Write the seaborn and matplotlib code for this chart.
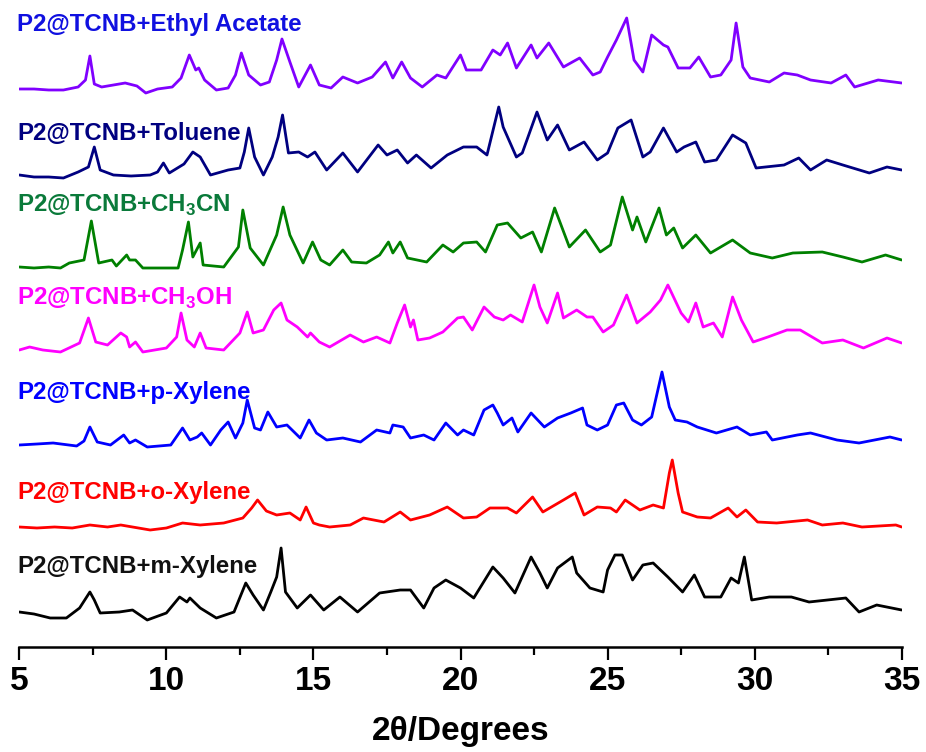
import matplotlib

matplotlib.use("Agg")
import matplotlib.pyplot as plt
import numpy as np
import pandas as pd
import seaborn as sns
from matplotlib.ticker import MultipleLocator

# 2theta positions (deg) and intensities (a.u., above each trace's floor)
ea_deg = [5.0, 5.5, 6.0, 6.5, 7.0, 7.25, 7.4, 7.55, 7.8, 8.2, 8.6, 9.0, 9.3, 9.7, 10.2, 10.5, 10.78, 11.0, 11.1, 11.3,
          11.7, 12.1, 12.35, 12.55, 12.8, 13.2, 13.5, 13.75, 13.93, 14.2, 14.5, 14.9, 15.2, 15.6, 16.0, 16.5, 17.0,
          17.45, 17.7, 18.0, 18.3, 18.7, 19.2, 19.5, 20.0, 20.2, 20.7, 21.1, 21.35, 21.6, 21.9, 22.4, 22.6, 23.0,
          23.5, 24.05, 24.5, 24.75, 25.0, 25.3, 25.65, 25.9, 26.2, 26.5, 26.9, 27.05, 27.4, 27.8, 28.1, 28.5, 28.85,
          29.2, 29.37, 29.6, 29.85, 30.5, 31.0, 31.45, 31.9, 32.6, 33.1, 33.4, 34.2, 35.0]
ea_int = [6, 6, 5, 5, 8, 15, 39, 11, 8, 10, 12, 9, 2, 6, 8, 17, 40, 25, 27, 15, 5, 7, 20, 42, 20, 10, 13, 35, 56, 33,
          8, 30, 10, 7, 18, 12, 18, 33, 17, 33, 17, 8, 20, 17, 40, 25, 25, 45, 40, 52, 27, 50, 37, 52, 28, 37, 20,
          23, 38, 55, 77, 35, 23, 60, 50, 48, 27, 27, 38, 18, 20, 35, 72, 28, 17, 13, 22, 20, 15, 12, 20, 8, 15, 12]

tol_deg = [5.0, 5.5, 6.0, 6.5, 7.0, 7.35, 7.55, 7.75, 8.2, 8.8, 9.45, 9.7, 9.9, 10.1, 10.6, 10.9, 11.15, 11.5, 12.1,
           12.5, 12.65, 12.8, 13.0, 13.3, 13.6, 13.8, 13.95, 14.15, 14.5, 14.8, 15.05, 15.45, 16.0, 16.5, 17.2, 17.5,
           17.85, 18.2, 18.5, 19.0, 19.55, 20.1, 20.55, 20.9, 21.3, 21.45, 21.9, 22.1, 22.6, 22.95, 23.3, 23.7, 24.2,
           24.65, 25.0, 25.35, 25.8, 26.2, 26.45, 26.9, 27.35, 27.6, 28.0, 28.3, 28.7, 29.25, 29.7, 30.05, 31.0, 31.5,
           31.9, 32.45, 33.0, 33.9, 34.5, 35.0]
tol_int = [7, 5, 5, 4, 10, 15, 35, 12, 7, 6, 7, 10, 19, 9, 18, 30, 25, 7, 12, 14, 30, 54, 25, 7, 25, 45, 67, 29, 30,
           25, 30, 12, 29, 10, 37, 27, 32, 19, 27, 14, 27, 35, 35, 27, 75, 55, 25, 29, 70, 42, 57, 32, 40, 22, 29, 54,
           62, 25, 30, 54, 30, 35, 40, 20, 22, 47, 39, 14, 17, 24, 12, 22, 17, 9, 15, 12]

cn_deg = [5.0, 5.5, 6.0, 6.4, 6.7, 7.2, 7.45, 7.7, 8.15, 8.3, 8.65, 8.75, 8.95, 9.2, 9.8, 10.4, 10.55, 10.75, 10.9,
          11.15, 11.25, 11.95, 12.45, 12.6, 12.85, 13.3, 13.75, 13.97, 14.2, 14.65, 14.97, 15.25, 15.55, 16.0, 16.3,
          16.8, 17.25, 17.55, 17.7, 17.95, 18.2, 18.85, 19.4, 19.75, 20.1, 20.55, 20.85, 21.25, 21.6, 22.05, 22.45,
          22.75, 23.2, 23.7, 24.25, 24.75, 25.1, 25.5, 25.85, 26.0, 26.3, 26.75, 27.0, 27.25, 27.55, 28.0, 28.5,
          29.25, 29.85, 30.6, 31.3, 32.3, 33.0, 33.65, 34.45, 35.0]
cn_int = [5, 4, 5, 4, 9, 12, 51, 9, 12, 6, 17, 12, 12, 4, 4, 4, 22, 50, 15, 29, 7, 5, 25, 62, 24, 7, 37, 65, 37, 9,
          30, 12, 7, 22, 10, 9, 17, 30, 19, 30, 14, 10, 27, 20, 29, 30, 20, 47, 49, 34, 40, 20, 64, 25, 42, 20, 27,
          75, 42, 55, 30, 64, 37, 44, 24, 37, 19, 32, 19, 14, 19, 20, 15, 10, 17, 12]

oh_deg = [5.0, 5.35, 5.8, 6.4, 7.05, 7.35, 7.6, 8.0, 8.45, 8.65, 8.75, 8.95, 9.2, 10.0, 10.35, 10.5, 10.7, 10.95,
          11.15, 11.35, 11.95, 12.5, 12.75, 12.95, 13.3, 13.65, 13.9, 14.1, 14.45, 14.8, 14.9, 15.2, 15.55, 16.25,
          16.7, 17.15, 17.6, 17.85, 18.1, 18.3, 18.4, 18.55, 18.95, 19.4, 19.9, 20.1, 20.4, 20.8, 21.15, 21.45, 21.7,
          22.1, 22.5, 22.7, 22.95, 23.3, 23.5, 23.95, 24.3, 24.5, 24.85, 25.2, 25.35, 25.65, 26.0, 26.45, 26.8,
          27.05, 27.5, 27.75, 28.0, 28.25, 28.6, 28.9, 29.25, 29.55, 29.95, 30.45, 31.1, 31.55, 32.3, 33.0, 33.7,
          34.5, 35.0]
oh_int = [5, 8, 5, 3, 12, 37, 13, 10, 22, 18, 8, 13, 3, 7, 18, 42, 15, 8, 22, 7, 5, 22, 43, 22, 25, 45, 52, 35, 28,
          18, 22, 13, 8, 20, 13, 18, 12, 32, 50, 28, 35, 15, 17, 23, 37, 38, 25, 48, 38, 35, 40, 33, 70, 48, 32, 62,
          37, 45, 38, 38, 23, 30, 40, 60, 32, 43, 55, 70, 42, 33, 52, 28, 32, 18, 58, 35, 13, 18, 25, 25, 12, 15, 7,
          17, 12]

px_deg = [5.0, 5.6, 6.15, 6.95, 7.2, 7.4, 7.65, 8.1, 8.55, 8.75, 8.95, 9.35, 10.15, 10.55, 10.8, 11.05, 11.2, 11.5,
          11.85, 12.1, 12.35, 12.6, 12.75, 13.0, 13.2, 13.45, 13.75, 14.1, 14.55, 14.85, 15.1, 15.45, 16.0, 16.6,
          17.15, 17.6, 17.7, 18.05, 18.3, 18.75, 19.1, 19.5, 19.9, 20.1, 20.45, 20.8, 21.1, 21.25, 21.45, 21.75,
          21.95, 22.4, 22.85, 23.3, 23.75, 24.15, 24.3, 24.65, 25.0, 25.3, 25.55, 25.85, 26.15, 26.5, 26.85, 27.1,
          27.3, 27.7, 28.05, 28.7, 29.4, 29.85, 30.4, 30.6, 31.45, 31.9, 32.8, 33.55, 34.6, 35.0]
px_int = [4, 5, 6, 3, 8, 22, 7, 4, 14, 6, 9, 2, 4, 21, 9, 12, 16, 4, 19, 27, 11, 26, 49, 21, 19, 37, 22, 24, 11, 29,
          16, 9, 11, 7, 19, 16, 24, 22, 11, 14, 9, 26, 14, 19, 14, 39, 44, 36, 24, 31, 17, 36, 22, 31, 36, 41, 24,
          19, 24, 44, 46, 29, 24, 32, 77, 42, 29, 27, 22, 16, 22, 14, 17, 9, 14, 16, 9, 6, 12, 9]

ox_deg = [5.0, 5.6, 6.2, 6.8, 7.4, 8.0, 8.45, 9.45, 10.0, 10.55, 11.15, 11.95, 12.6, 12.9, 13.1, 13.4, 13.75, 14.2,
          14.55, 14.75, 15.0, 15.2, 15.55, 16.25, 16.7, 17.4, 17.95, 18.3, 18.95, 19.55, 20.1, 20.55, 21.0, 21.6,
          21.9, 22.45, 22.8, 23.5, 23.9, 24.2, 24.65, 25.1, 25.3, 25.6, 26.1, 26.55, 26.9, 27.1, 27.2, 27.4, 27.55,
          28.05, 28.5, 29.1, 29.4, 29.7, 30.1, 30.75, 31.8, 32.3, 33.0, 33.65, 34.8, 35.0]
ox_int = [6, 5, 6, 5, 8, 6, 8, 3, 5, 10, 8, 10, 15, 25, 33, 22, 18, 20, 13, 26, 10, 8, 6, 8, 15, 11, 21, 13, 18, 26,
          15, 16, 25, 25, 20, 36, 21, 33, 40, 18, 26, 25, 21, 33, 23, 28, 25, 60, 73, 40, 21, 16, 15, 25, 16, 23, 11,
          10, 13, 8, 10, 6, 8, 6]

mx_deg = [5.0, 5.5, 6.05, 6.6, 7.05, 7.4, 7.55, 7.75, 8.4, 8.85, 9.35, 10.0, 10.45, 10.7, 10.8, 11.15, 11.7, 12.3,
          12.7, 12.95, 13.3, 13.55, 13.75, 13.9, 14.05, 14.45, 14.9, 15.35, 15.9, 16.5, 17.25, 17.95, 18.3, 18.75,
          19.1, 19.5, 20.0, 20.45, 21.1, 21.45, 21.85, 22.4, 22.7, 22.95, 23.3, 23.8, 23.95, 24.4, 24.85, 25.0, 25.25,
          25.5, 25.85, 26.2, 26.55, 27.05, 27.55, 27.95, 28.3, 28.85, 29.2, 29.45, 29.65, 29.9, 30.5, 31.25, 31.85,
          33.1, 33.55, 34.15, 35.0]
mx_int = [10, 8, 4, 4, 14, 30, 22, 9, 10, 12, 2, 9, 25, 20, 24, 14, 4, 10, 39, 27, 12, 30, 45, 74, 30, 14, 27, 12,
          25, 10, 29, 32, 32, 14, 34, 42, 34, 24, 55, 44, 29, 65, 49, 34, 54, 65, 49, 34, 30, 52, 67, 67, 42, 57, 59,
          45, 30, 47, 25, 25, 44, 39, 65, 22, 25, 25, 20, 24, 10, 17, 12]

SAMPLES = ["Ethyl Acetate", "Toluene", "CH3CN", "CH3OH", "p-Xylene", "o-Xylene", "m-Xylene"]
LABELS = [
    "P2@TCNB+Ethyl Acetate",
    "P2@TCNB+Toluene",
    "P2@TCNB+CH$_\\mathbf{3}$CN",
    "P2@TCNB+CH$_\\mathbf{3}$OH",
    "P2@TCNB+p-Xylene",
    "P2@TCNB+o-Xylene",
    "P2@TCNB+m-Xylene",
]
XTICKS = [5, 10, 15, 20, 25, 30, 35]

# layout / style
OFFSETS = [552, 465, 375, 292, 198, 114, 25]
LABEL_Y = [622, 514, 442, 349, 255, 155, 80]
LINE_COLORS = ["#8000ff", "#000080", "#008000", "#ff00ff", "#0000ff", "#ff0000", "#000000"]
LABEL_COLORS = ["#1010e0", "#000080", "#0a7a3a", "#ff00ff", "#0000ff", "#ff0000", "#111111"]
FIG_W, FIG_H, DPI = 926, 752, 100


def _build_frame() -> pd.DataFrame:
    series = [
        (ea_deg, ea_int), (tol_deg, tol_int), (cn_deg, cn_int), (oh_deg, oh_int),
        (px_deg, px_int), (ox_deg, ox_int), (mx_deg, mx_int),
    ]
    parts = []
    for name, (deg, inten), off in zip(SAMPLES, series, OFFSETS):
        parts.append(pd.DataFrame({
            "two_theta": deg,
            "counts": np.asarray(inten, dtype=float) + off,
            "sample": name,
        }))
    return pd.concat(parts, ignore_index=True)


def main() -> None:
    sns.set_theme(style="ticks")
    plt.rcParams["font.family"] = ["Liberation Sans", "DejaVu Sans"]
    plt.rcParams["font.weight"] = "bold"
    plt.rcParams["text.color"] = "black"
    plt.rcParams["axes.labelcolor"] = "black"
    plt.rcParams["mathtext.fontset"] = "custom"
    plt.rcParams["mathtext.rm"] = "Liberation Sans:bold"
    plt.rcParams["mathtext.bf"] = "Liberation Sans:bold"

    df = _build_frame()

    fig = plt.figure(figsize=(FIG_W / DPI, FIG_H / DPI), dpi=DPI)
    ax = fig.add_axes([19.3 / FIG_W, 105 / FIG_H, 882.4 / FIG_W, 642 / FIG_H])

    sns.lineplot(
        data=df, x="two_theta", y="counts", hue="sample",
        palette=dict(zip(SAMPLES, LINE_COLORS)), hue_order=SAMPLES,
        estimator=None, sort=False, linewidth=2.0, legend=False, ax=ax,
    )

    for text, ly, col in zip(LABELS, LABEL_Y, LABEL_COLORS):
        ax.text(4.93, ly, text, color=col, fontsize=17.3, fontweight="bold",
                ha="left", va="center", clip_on=False)

    ax.set_xlim(5, 35)
    ax.set_ylim(0, 642)
    ax.set_xticks(XTICKS)
    ax.xaxis.set_minor_locator(MultipleLocator(2.5))
    ax.set_yticks([])
    ax.set_ylabel("")
    ax.tick_params(axis="x", which="major", length=9.5, width=1.6, direction="out",
                   labelsize=24, pad=4, colors="black")
    ax.tick_params(axis="x", which="minor", length=5.5, width=1.6, direction="out", colors="black")
    for lbl in ax.get_xticklabels():
        lbl.set_fontweight("bold")
    ax.set_xlabel("2θ/Degrees", fontsize=24, fontweight="bold", color="black", labelpad=14)

    for side in ["left", "top", "right"]:
        ax.spines[side].set_visible(False)
    ax.spines["bottom"].set_linewidth(1.8)
    ax.spines["bottom"].set_color("black")
    ax.patch.set_visible(False)

    fig.savefig("out.png", dpi=DPI)
    plt.close(fig)


if __name__ == "__main__":
    main()
